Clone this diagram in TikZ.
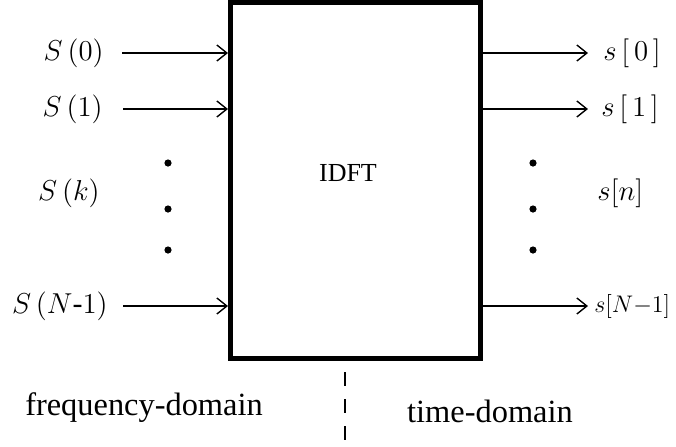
\documentclass[tikz,border=0pt]{standalone}
\usepackage{fontspec}
\setmainfont{Liberation Serif}
\usetikzlibrary{arrows.meta}

\begin{document}
\begin{tikzpicture}[x=0.5pt,y=-0.5pt,
		sig/.style={line width=0.7pt,-{Straight Barb[length=5pt,width=8pt]}},
		lab/.style={font=\fontsize{15}{18}\selectfont,inner sep=0pt},
		dom/.style={font=\fontsize{16.2}{19}\selectfont,inner sep=0pt,anchor=base},
		dot/.style={circle,fill,inner sep=0pt,minimum size=3.6pt}]
		\useasboundingbox (0,0) rectangle (676,446);
		\node[draw,line width=2.5pt,minimum width=125pt,minimum height=177.75pt,inner sep=0pt](idft) at (355.5,180.25){};
		\node[font=\fontsize{13}{15}\selectfont](idfttext) at (348,173){IDFT};

		\node[lab,anchor=east](S0) at (104,53){$S\,(0)$};
		\node[lab,anchor=east](S1) at (103,109){$S\,(1)$};
		\node[lab,anchor=east](Sk) at (100,193){$S\,(k)$};
		\node[lab,anchor=east](SN) at (108,306){$S\,(N\mbox{-}1)$};
		\coordinate (i0) at (122,53);
		\coordinate (i1) at (123,109);
		\coordinate (iN) at (123,306);
		\draw[sig] (i0) -- (i0 -| idft.west);
		\draw[sig] (i1) -- (i1 -| idft.west);
		\draw[sig] (iN) -- (iN -| idft.west);
		\node[dot](d1) at (168,163){};
		\node[dot](d2) at (168,209){};
		\node[dot](d3) at (168,250){};

		\node[lab,anchor=west](s0) at (603,53){$s\,[\,0\,]$};
		\node[lab,anchor=west](s1) at (601,109){$s\,[\,1\,]$};
		\node[lab,anchor=west](sn) at (597,193){$s[n]$};
		\node[lab,anchor=west,font=\fontsize{13}{16}\selectfont](sN) at (594,306){$s[N{-}1]$};
		\coordinate (o0) at (588,53);
		\coordinate (o1) at (588,109);
		\coordinate (oN) at (588,306);
		\draw[sig] (o0 -| idft.east) -- (o0);
		\draw[sig] (o1 -| idft.east) -- (o1);
		\draw[sig] (oN -| idft.east) -- (oN);
		\node[dot](e1) at (533,163){};
		\node[dot](e2) at (533,209){};
		\node[dot](e3) at (533,250){};

		\coordinate (cut) at (345,372);
		\draw[line width=0.8pt,dash pattern=on 7pt off 6.5pt] (cut) -- (cut |- 0,446);
		\node[dom](freq) at (144,415){frequency-domain};
		\node[dom](time) at (490,422){time-domain};
\end{tikzpicture}
\end{document}
